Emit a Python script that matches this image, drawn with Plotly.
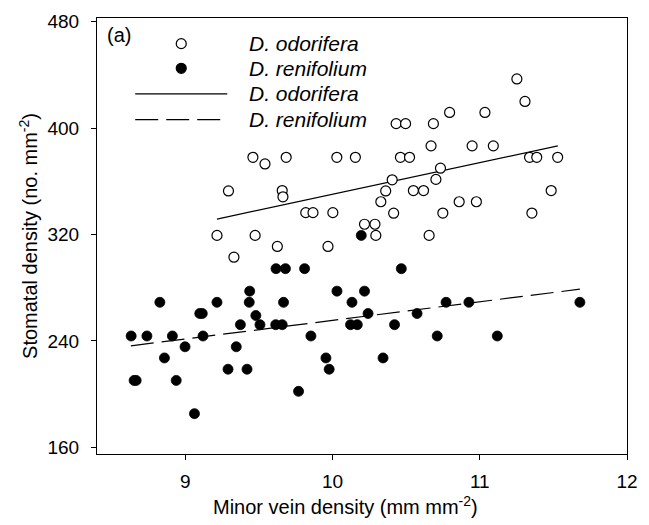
import plotly.graph_objects as go

# D. odorifera (open circles)
odo_x = [9.459, 9.541, 9.685, 10.029, 10.155, 9.293, 9.658, 9.663, 9.818, 9.867,
         10.002, 9.215, 9.474, 9.625, 9.969, 9.330, 10.217, 10.288, 10.294, 10.328,
         10.361, 10.405, 10.415, 11.252, 11.307, 10.795, 11.035, 10.432, 10.496, 10.685,
         10.669, 10.948, 11.092, 10.461, 10.523, 11.338, 11.387, 11.529, 10.733, 10.702,
         10.549, 10.618, 11.485, 10.749, 10.860, 10.977, 11.354, 10.656]
odo_y = [378.0, 373.0, 378.0, 378.0, 378.0, 352.7, 353.0, 348.3, 336.4, 336.4,
         336.4, 319.3, 319.3, 311.0, 311.0, 302.9, 327.7, 327.7, 319.3, 344.6,
         352.7, 361.1, 336.0, 436.9, 420.0, 411.7, 411.7, 403.3, 403.3, 403.3,
         386.6, 386.6, 386.6, 378.0, 378.0, 378.0, 378.0, 378.0, 369.8, 361.4,
         353.0, 353.0, 353.0, 336.1, 344.6, 344.6, 336.1, 319.3]

# D. renifolium (filled circles)
ren_x = [8.632, 8.739, 8.912, 9.120, 8.827, 9.098, 9.115, 9.215, 8.652, 8.666,
         8.858, 8.998, 8.938, 9.062, 9.374, 9.437, 9.434, 9.479, 9.507, 9.346,
         9.290, 9.419, 9.616, 9.680, 9.810, 9.614, 9.658, 9.667, 9.853, 9.769,
         9.955, 9.977, 10.030, 10.217, 10.132, 10.241, 10.122, 10.168, 10.467, 10.421,
         10.574, 10.771, 10.926, 11.680, 10.711, 11.119, 10.343, 10.195]
ren_y = [243.7, 243.7, 243.7, 243.7, 269.0, 260.6, 260.6, 269.0, 210.3, 210.3,
         227.2, 235.6, 210.3, 185.3, 252.2, 277.4, 269.0, 259.1, 252.2, 235.6,
         218.7, 218.7, 294.3, 294.3, 294.3, 252.2, 252.2, 269.0, 243.7, 202.1,
         227.2, 218.7, 277.4, 277.4, 269.0, 260.6, 252.2, 252.2, 294.3, 252.2,
         260.6, 269.0, 269.0, 269.0, 243.7, 243.7, 227.2, 319.3]

# regression lines (end points)
odo_fit_x = [9.215, 11.53]
odo_fit_y = [331.6, 386.6]
ren_fit_x = [8.63, 11.68]
ren_fit_y = [236.3, 278.9]

x_ticks = [9, 10, 11, 12]
y_ticks = [160, 240, 320, 400, 480]

FONT = "Liberation Sans, Arial, sans-serif"

fig = go.Figure()
fig.add_trace(go.Scatter(x=odo_fit_x, y=odo_fit_y, mode="lines",
                         line=dict(color="black", width=1.2), showlegend=False))
fig.add_trace(go.Scatter(x=ren_fit_x, y=ren_fit_y, mode="lines",
                         line=dict(color="black", width=1.2, dash="23px,8px"), showlegend=False))
fig.add_trace(go.Scatter(x=odo_x, y=odo_y, mode="markers",
                         marker=dict(symbol="circle", size=10, color="white",
                                     line=dict(color="black", width=1.2)),
                         showlegend=False))
fig.add_trace(go.Scatter(x=ren_x, y=ren_y, mode="markers",
                         marker=dict(symbol="circle", size=10, color="black",
                                     line=dict(color="black", width=0.8)),
                         showlegend=False))

# manual legend (paper coordinates)
L, R, T, B = 97, 11, 12, 71
W, H = 649, 525
pw, ph = W - L - R, H - T - B
def px2x(px):
    return (px - L) / pw
def py2y(py):
    return 1 - (py - T) / ph

rows = [38, 63, 89, 115]
labels = ["D. odorifera", "D. renifolium", "D. odorifera", "D. renifolium"]
shapes = []
mx = px2x(183)
for i, fill in enumerate(["white", "black"]):
    shapes.append(dict(type="circle", xref="paper", yref="paper",
                       xsizemode="pixel", ysizemode="pixel",
                       xanchor=mx, yanchor=py2y(rows[i]),
                       x0=-5, x1=5, y0=-5, y1=5,
                       fillcolor=fill, line=dict(color="black", width=1.2)))
shapes.append(dict(type="line", xref="paper", yref="paper",
                   x0=px2x(136), x1=px2x(230), y0=py2y(rows[2]), y1=py2y(rows[2]),
                   line=dict(color="black", width=1.2)))
shapes.append(dict(type="line", xref="paper", yref="paper",
                   x0=px2x(136), x1=px2x(230), y0=py2y(rows[3]), y1=py2y(rows[3]),
                   line=dict(color="black", width=1.2, dash="23px,8px")))

annotations = []
for r, t in zip(rows, labels):
    annotations.append(dict(xref="paper", yref="paper", x=px2x(250), y=py2y(r),
                            text="<i>%s</i>" % t, showarrow=False, xanchor="left",
                            yanchor="middle", font=dict(family=FONT, size=21, color="black")))
annotations.append(dict(xref="paper", yref="paper", x=px2x(105), y=py2y(29),
                        text="(a)", showarrow=False, xanchor="left", yanchor="middle",
                        font=dict(family=FONT, size=20, color="black")))
# x-axis title (placed as in the reference, slightly left of plot centre)
annotations.append(dict(xref="paper", yref="paper", x=px2x(351), y=py2y(506),
                        text="Minor vein density (mm mm<sup>-2</sup>)", showarrow=False,
                        xanchor="center", yanchor="middle",
                        font=dict(family=FONT, size=20, color="black")))

fig.update_layout(
    width=W, height=H,
    margin=dict(l=L, r=R, t=T, b=B),
    plot_bgcolor="white", paper_bgcolor="white",
    font=dict(family=FONT, size=19, color="black"),
    shapes=shapes, annotations=annotations,
    xaxis=dict(range=[8.4, 12], tickvals=x_ticks, ticktext=[str(v) for v in x_ticks],
               showline=True, mirror=True, linecolor="black", linewidth=1,
               ticks="outside", ticklen=5, tickwidth=1, tickcolor="black",
               showgrid=False, zeroline=False, ticklabelstandoff=5,
               tickfont=dict(size=19)),
    yaxis=dict(range=[155, 482.7], tickvals=y_ticks, ticktext=[str(v) for v in y_ticks],
               showline=True, mirror=True, linecolor="black", linewidth=1,
               ticks="outside", ticklen=5, tickwidth=1, tickcolor="black",
               showgrid=False, zeroline=False, ticklabelstandoff=8,
               tickfont=dict(size=19),
               title=dict(text="Stomatal density (no. mm<sup>-2</sup>)", standoff=4,
                          font=dict(size=20))),
)

fig.write_html("out.html")
